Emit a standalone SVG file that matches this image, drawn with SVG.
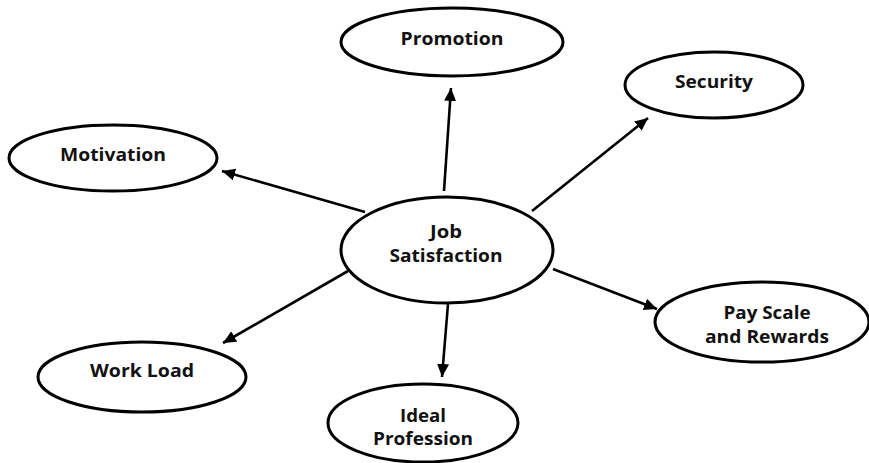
<svg xmlns="http://www.w3.org/2000/svg" width="869" height="463" viewBox="0 0 869 463">
<style>
.node ellipse{fill:#fff;stroke:#000;stroke-width:3}
.node text{font-family:"Open Sans","Noto Sans","DejaVu Sans",sans-serif;font-weight:700;font-size:17px;fill:#111;text-anchor:middle}
.edge{stroke:#000;stroke-width:2.6;fill:none;marker-end:url(#arrow)}
</style>
<defs>
<marker id="arrow" markerUnits="userSpaceOnUse" markerWidth="16" markerHeight="14" refX="13" refY="6" orient="auto">
<path d="M0,0 L13,6 L0,12 Z" fill="#000"/>
</marker>
</defs>
<rect width="869" height="463" fill="#fff"/>
<g id="connectors">
<line class="edge" x1="444" y1="191" x2="451" y2="88"/>
<line class="edge" x1="532" y1="211" x2="648" y2="118"/>
<line class="edge" x1="365" y1="212" x2="222" y2="171"/>
<line class="edge" x1="348" y1="271" x2="223" y2="343"/>
<line class="edge" x1="448" y1="304" x2="442" y2="377"/>
<line class="edge" x1="553" y1="269" x2="657" y2="309"/>
</g>
<g id="job-satisfaction" class="node">
<ellipse cx="447" cy="250" rx="106" ry="53"/>
<text x="446" y="238" textLength="32" lengthAdjust="spacingAndGlyphs">Job</text>
<text x="446" y="262" textLength="113" lengthAdjust="spacingAndGlyphs">Satisfaction</text>
</g>
<g id="promotion" class="node">
<ellipse cx="452" cy="42" rx="111" ry="34"/>
<text x="452" y="45" textLength="103" lengthAdjust="spacingAndGlyphs">Promotion</text>
</g>
<g id="security" class="node">
<ellipse cx="714" cy="85" rx="89" ry="33"/>
<text x="714" y="88" textLength="78" lengthAdjust="spacingAndGlyphs">Security</text>
</g>
<g id="motivation" class="node">
<ellipse cx="113" cy="158" rx="104" ry="33"/>
<text x="113" y="161" textLength="106" lengthAdjust="spacingAndGlyphs">Motivation</text>
</g>
<g id="work-load" class="node">
<ellipse cx="142" cy="377" rx="104" ry="35"/>
<text x="142" y="377" textLength="104" lengthAdjust="spacingAndGlyphs">Work Load</text>
</g>
<g id="ideal-profession" class="node">
<ellipse cx="423" cy="423" rx="95" ry="39"/>
<text x="423" y="422" textLength="46" lengthAdjust="spacingAndGlyphs">Ideal</text>
<text x="423" y="445" textLength="100" lengthAdjust="spacingAndGlyphs">Profession</text>
</g>
<g id="pay-scale" class="node">
<ellipse cx="762" cy="322" rx="107" ry="40"/>
<text x="767" y="319" textLength="87" lengthAdjust="spacingAndGlyphs">Pay Scale</text>
<text x="767" y="343" textLength="124" lengthAdjust="spacingAndGlyphs">and Rewards</text>
</g>
</svg>
